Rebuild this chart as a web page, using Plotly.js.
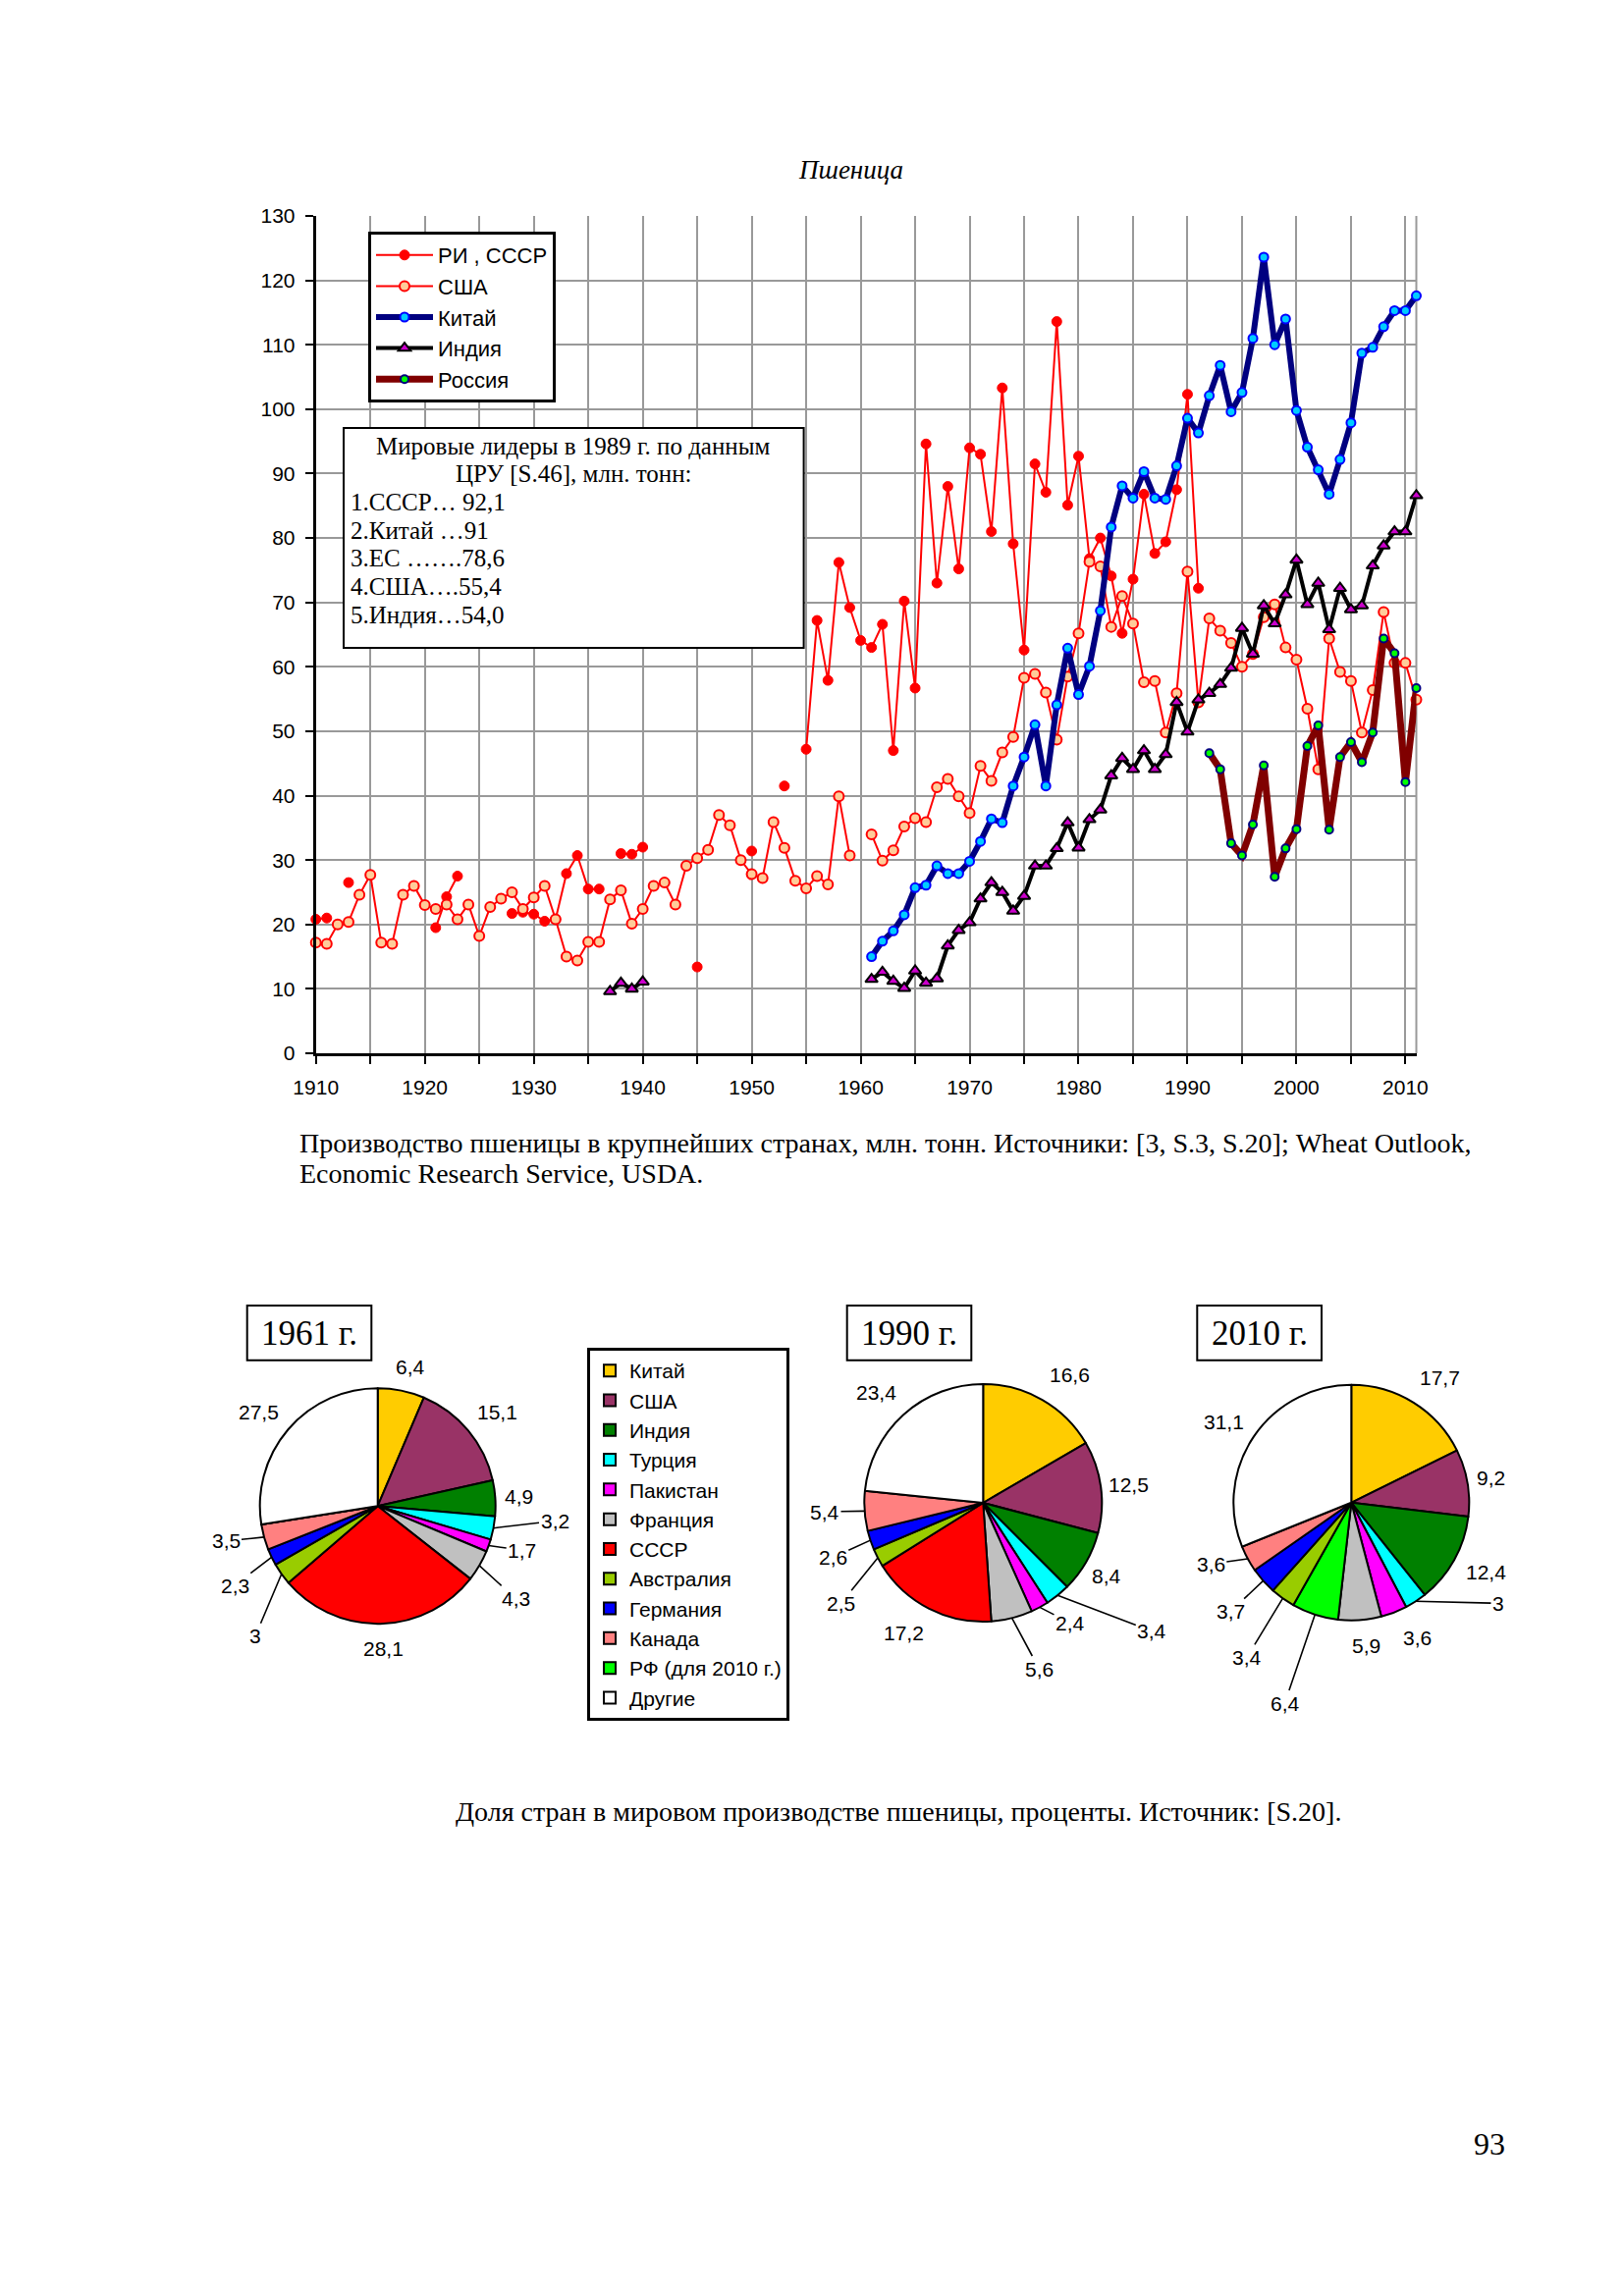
<!DOCTYPE html>
<html><head><meta charset="utf-8">
<script src="https://cdn.plot.ly/plotly-3.0.1.min.js"></script>
<style>html,body{margin:0;padding:0;background:#fff}#chart{width:1653px;height:2339px}</style>
</head><body><div id="chart"></div>
<script>
// ---------------- DATA ----------------
const seriesNames = ['РИ , СССР', 'США', 'Китай', 'Индия', 'Россия'];

// РИ / СССР, from 1910 (null = no data)
const riStart = 1910;
const riValues = [20.8, 21.0, null, 26.5, null, null, null, null, null, null, null,
  19.5, 24.3, 27.5, null, null, null, null,
  21.7, 21.9, 21.6, 20.5, 20.8, 27.9, 30.7, 25.5, 25.5, null, 31.0, 30.9, 32.0,
  null, null, null, null, 13.4, null, null, null, null, 31.4, null, null, 41.5, null,
  47.2, 67.2, 57.9, 76.2, 69.2, 64.1, 63.0, 66.6, 47.0, 70.2,
  56.7, 94.6, 73.0, 88.0, 75.2, 94.0, 93.0, 81.0, 103.3, 79.1,
  62.6, 91.5, 87.1, 113.6, 85.1, 92.7, 76.8, 80.0, 74.1, 65.2,
  73.6, 86.8, 77.6, 79.4, 87.5, 102.3, 72.2];

// США, from 1910
const usStart = 1910;
const usValues = [17.2, 17.0, 20.0, 20.4, 24.6, 27.7, 17.2, 17.0, 24.6, 26.0,
  23.0, 22.4, 23.1, 20.8, 23.1, 18.2, 22.7, 24.0, 25.0, 22.4,
  24.2, 26.0, 20.8, 15.0, 14.4, 17.3, 17.3, 23.9, 25.3, 20.1,
  22.4, 26.0, 26.5, 23.1, 29.1, 30.3, 31.6, 37.0, 35.4, 30.0,
  27.8, 27.2, 35.9, 31.9, 26.8, 25.6, 27.5, 26.2, 39.9, 30.7,
  null, 34.0, 29.9, 31.5, 35.2, 36.5, 35.9, 41.3, 42.6, 39.9,
  37.3, 44.6, 42.3, 46.7, 49.1, 58.3, 58.9, 56.0, 48.7, 58.5,
  65.2, 76.3, 75.6, 66.2, 71.0, 66.7, 57.6, 57.8, 49.8, 55.9,
  74.8, 54.5, 67.5, 65.6, 63.7, 60.0, 62.0, 67.7, 69.7, 63.0,
  61.1, 53.5, 44.1, 64.4, 59.2, 57.8, 49.8, 56.4, 68.5, 60.6,
  60.6, 54.9];

// Китай, from 1961
const chinaStart = 1961;
const chinaValues = [15.0, 17.4, 19.0, 21.5, 25.7, 26.1, 29.1, 27.9, 27.9, 29.8,
  32.9, 36.4, 35.8, 41.5, 46.0, 51.0, 41.5, 54.1, 62.9, 55.7,
  60.1, 68.7, 81.7, 88.1, 86.2, 90.3, 86.2, 86.0, 91.2, 98.6,
  96.3, 102.1, 106.8, 99.6, 102.6, 111.0, 123.6, 110.0, 114.0, 99.8,
  94.1, 90.6, 86.8, 92.2, 97.9, 108.7, 109.6, 112.8, 115.3, 115.3,
  117.6];

// Индия, from 1937
const indiaStart = 1937;
const indiaValues = [9.6, 10.9, 10.0, 11.1,
  null, null, null, null, null, null, null, null, null, null,
  null, null, null, null, null, null, null, null, null, null,
  11.5, 12.6, 11.2, 10.1, 12.8, 10.9, 11.6, 16.7, 19.1, 20.3,
  24.0, 26.5, 25.0, 22.1, 24.4, 29.1, 29.1, 31.8, 35.8, 31.9,
  36.3, 37.8, 43.1, 45.8, 44.1, 47.0, 44.1, 46.4, 54.5, 49.9,
  54.9, 55.9, 57.3, 59.8, 66.0, 62.0, 69.5, 66.7, 71.2, 76.6,
  69.7, 73.0, 65.8, 72.2, 68.9, 69.5, 75.7, 78.8, 81.0, 81.0,
  86.6];

// Россия, from 1992
const russiaStart = 1992;
const russiaValues = [46.6, 44.1, 32.6, 30.7, 35.5, 44.7, 27.4, 31.8, 34.8, 47.7,
  50.9, 34.7, 46.0, 48.3, 45.2, 49.8, 64.4, 62.1, 42.1, 56.7];

// Pie charts: shares, %
const pieLabels = ['Китай', 'США', 'Индия', 'Турция', 'Пакистан', 'Франция', 'СССР',
  'Австралия', 'Германия', 'Канада', 'РФ (для 2010 г.)', 'Другие'];
const share1961 = [6.4, 15.1, 4.9, 3.2, 1.7, 4.3, 28.1, 3, 2.3, 3.5, 0, 27.5];
const labels1990 = ['Китай', 'США', 'Индия', 'Турция', 'Пакистан', 'Франция', 'СССР',
  'Австралия', 'Германия', 'Канада', 'Другие'];
const share1990 = [16.6, 12.5, 8.4, 3.4, 2.4, 5.6, 17.2, 2.5, 2.6, 5.4, 23.4];
const labels2010 = ['Китай', 'США', 'Индия', 'Турция', 'Пакистан', 'Франция', 'РФ (для 2010 г.)',
  'Австралия', 'Германия', 'Канада', 'Другие'];
const share2010 = [17.7, 9.2, 12.4, 3, 3.6, 5.9, 6.4, 3.4, 3.7, 3.6, 31.1];
const pieYears = ['1961 г.', '1990 г.', '2010 г.'];

const boxLines = ['Мировые лидеры в 1989 г. по данным', 'ЦРУ [S.46], млн. тонн:',
  '1.СССР… 92,1', '2.Китай …91', '3.ЕС …….78,6', '4.США….55,4', '5.Индия…54,0'];

// ---------------- STYLE / LAYOUT ----------------
const W = 1653, H = 2339;
const X = v => v / W;
const Y = v => 1 - v / H;
const SANS = 'Liberation Sans, Arial, sans-serif';
const SERIF = 'Liberation Serif, Times New Roman, serif';
const yearsFrom = (start, arr) => arr.map((_, i) => start + i);

const colorMap = {
  'Китай': '#FFCC00', 'США': '#993366', 'Индия': '#008000', 'Турция': '#00FFFF',
  'Пакистан': '#FF00FF', 'Франция': '#C0C0C0', 'СССР': '#FF0000', 'Австралия': '#99CC00',
  'Германия': '#0000FF', 'Канада': '#FF8080', 'РФ (для 2010 г.)': '#00FF00', 'Другие': '#FFFFFF'
};

function lineTrace(name, start, vals, line, marker) {
  return {
    type: 'scatter', mode: 'lines+markers', name: name, legendgroup: name,
    x: yearsFrom(start, vals), y: vals, connectgaps: false, cliponaxis: false,
    line: line, marker: marker, hoverinfo: 'skip'
  };
}

const traces = [
  lineTrace(seriesNames[0], riStart, riValues, {color: '#FF0000', width: 2},
    {symbol: 'circle', size: 10, color: '#FF0000', line: {color: '#FF0000', width: 1}}),
  lineTrace(seriesNames[1], usStart, usValues, {color: '#FF0000', width: 2},
    {symbol: 'circle', size: 10, color: '#FFCC99', line: {color: '#FF0000', width: 2}}),
  lineTrace(seriesNames[2], chinaStart, chinaValues, {color: '#000080', width: 6},
    {symbol: 'circle', size: 9, color: '#00CCFF', line: {color: '#0000FF', width: 2}}),
  lineTrace(seriesNames[3], indiaStart, indiaValues, {color: '#000000', width: 4},
    {symbol: 'triangle-up', size: 11, color: '#CC00CC', line: {color: '#000000', width: 2}}),
  lineTrace(seriesNames[4], russiaStart, russiaValues, {color: '#800000', width: 7},
    {symbol: 'circle', size: 8, color: '#00FF00', line: {color: '#000080', width: 2}})
];

// pie geometry (px)
const pieGeo = [
  {cx: 384.7, cy: 1534.2, r: 120},
  {cx: 1001.3, cy: 1531, r: 121},
  {cx: 1376.3, cy: 1530.8, r: 120}
];
const pieSets = [
  {labels: pieLabels, values: share1961},
  {labels: labels1990, values: share1990},
  {labels: labels2010, values: share2010}
];
// label positions relative to pie centre: [dx, dy, leaderLine]
const labelPos = [
  [[33.6, -141.5, 0], [121.3, -95.9, 0], [143.6, -10.2, 0], [180.3, 15.1, 1], [147, 45.1, 1],
   [140.3, 94.1, 1], [5.3, 145.8, 0], [-124.7, 132.5, 1], [-145.4, 80.8, 1], [-154.7, 35.8, 1],
   null, [-121.4, -95.9, 0]],
  [[88, -131, 0], [148, -18.3, 0], [126, 74, 0], [172, 130.7, 1], [88.7, 122.3, 1],
   [57, 169, 1], [-81.3, 132.3, 0], [-144.6, 102.3, 1], [-153, 55.7, 1], [-161.3, 9, 1],
   [-108.6, -112.7, 0]],
  [[90.4, -127.5, 0], [142, -25.8, 0], [137, 70.9, 0], [149.7, 102.5, 1], [67, 137.5, 0],
   [15.4, 145.2, 0], [-67.8, 204.2, 1], [-106.3, 157.5, 1], [-123, 110.9, 1], [-143, 62.5, 1],
   [-129.6, -82.5, 0]]
];
const yearBoxes = [{x0: 251.7, x1: 378.3}, {x0: 862.7, x1: 989.3}, {x0: 1219.3, x1: 1346}];

pieSets.forEach((p, k) => {
  const g = pieGeo[k];
  traces.push({
    type: 'pie', labels: p.labels, values: p.values, sort: false, direction: 'clockwise',
    rotation: 0, textinfo: 'none', hoverinfo: 'none', legend: 'legend2', showlegend: true,
    marker: {colors: p.labels.map(l => colorMap[l]), line: {color: '#000000', width: 2}},
    domain: {x: [X(g.cx - g.r), X(g.cx + g.r)], y: [Y(g.cy + g.r), Y(g.cy - g.r)]}
  });
});

const annotations = [];
const shapes = [];
const pieFont = {family: SANS, size: 21, color: '#000'};

function textAt(x, y, text, font, xanchor) {
  return {xref: 'paper', yref: 'paper', x: X(x), y: Y(y), showarrow: false,
    xanchor: xanchor || 'center', yanchor: 'middle', text: text, font: font};
}

pieSets.forEach((p, k) => {
  const g = pieGeo[k];
  const total = p.values.reduce((a, b) => a + b, 0);
  let cum = 0;
  p.values.forEach((v, i) => {
    const mid = (cum + v / 2) / total * 2 * Math.PI;
    cum += v;
    const pos = labelPos[k][i];
    if (!v || !pos) return;
    const tx = g.cx + pos[0], ty = g.cy + pos[1];
    const text = String(v).replace('.', ',');
    if (pos[2]) {
      const axp = g.cx + g.r * Math.sin(mid), ayp = g.cy - g.r * Math.cos(mid);
      annotations.push({xref: 'paper', yref: 'paper', x: X(axp), y: Y(ayp), ax: tx - axp, ay: ty - ayp,
        showarrow: true, arrowhead: 0, arrowwidth: 1.6, arrowcolor: '#000', standoff: 0,
        text: text, font: pieFont});
    } else {
      annotations.push(textAt(tx, ty, text, pieFont));
    }
  });
  const b = yearBoxes[k];
  shapes.push({type: 'rect', xref: 'paper', yref: 'paper', x0: X(b.x0), x1: X(b.x1), y0: Y(1385.7), y1: Y(1330),
    line: {color: '#000', width: 2}, fillcolor: 'rgba(0,0,0,0)'});
  annotations.push(textAt((b.x0 + b.x1) / 2, 1358.5, pieYears[k], {family: SERIF, size: 35, color: '#000'}));
});

// info box in the line chart
shapes.push({type: 'rect', xref: 'paper', yref: 'paper', x0: X(350), x1: X(818.6), y0: Y(660), y1: Y(436),
  line: {color: '#000', width: 2}, fillcolor: '#FFFFFF', layer: 'above'});
const boxY = [454, 482.3, 511.7, 540, 568.3, 597.7, 626.7];
boxLines.forEach((t, i) => {
  const centred = i < 2;
  annotations.push(textAt(centred ? 584.3 : 355.4, boxY[i], t,
    {family: SERIF, size: 25, color: '#000'}, centred ? 'center' : 'left'));
});
// right border of plot
shapes.push({type: 'line', xref: 'x domain', yref: 'y domain', x0: 1, x1: 1, y0: 0, y1: 1,
  line: {color: '#999999', width: 2}, layer: 'below'});

// texts
const capFont = {family: SERIF, size: 28, color: '#000'};
annotations.push(textAt(866, 173, '<i>Пшеница</i>', {family: SERIF, size: 27, color: '#000'}));
annotations.push(textAt(303, 1164,
  'Производство пшеницы в крупнейших странах, млн. тонн. Источники: [3, S.3, S.20]; Wheat Outlook,', capFont, 'left'));
annotations.push(textAt(303, 1195, 'Economic Research Service, USDA.', capFont, 'left'));
annotations.push(textAt(915, 1845, 'Доля стран в мировом производстве пшеницы, проценты. Источник: [S.20].', capFont));
annotations.push(textAt(1517, 2184, '93', {family: SERIF, size: 32, color: '#000'}));

const gridCol = '#999999';
const layout = {
  width: W, height: H, margin: {l: 0, r: 0, t: 0, b: 0},
  paper_bgcolor: '#FFFFFF', plot_bgcolor: '#FFFFFF', showlegend: true,
  xaxis: {
    domain: [X(321.7), X(1442.5)], range: [1910, 2011], tick0: 1910, dtick: 10,
    ticks: 'outside', ticklen: 8, tickwidth: 2, tickcolor: '#000',
    showline: true, linecolor: '#000', linewidth: 3, showgrid: true, gridcolor: gridCol, gridwidth: 2,
    zeroline: false, ticklabelstandoff: 6, fixedrange: true,
    tickfont: {family: SANS, size: 21, color: '#000'},
    minor: {tick0: 1910, dtick: 5, ticks: 'outside', ticklen: 8, tickwidth: 2, tickcolor: '#000',
      showgrid: true, gridcolor: gridCol, gridwidth: 2}
  },
  yaxis: {
    domain: [Y(1073), Y(220)], range: [0, 130], tick0: 0, dtick: 10,
    ticks: 'outside', ticklen: 8, tickwidth: 2, tickcolor: '#000',
    showline: true, linecolor: '#000', linewidth: 3, showgrid: true, gridcolor: gridCol, gridwidth: 2,
    zeroline: false, ticklabelstandoff: 6, fixedrange: true,
    tickfont: {family: SANS, size: 21, color: '#000'}
  },
  legend: {
    x: X(375), y: Y(236), xanchor: 'left', yanchor: 'top', bgcolor: '#FFFFFF',
    bordercolor: '#000', borderwidth: 3, itemwidth: 58, tracegroupgap: 0,
    font: {family: SANS, size: 22, color: '#000'}
  },
  legend2: {
    x: X(598), y: Y(1373), xanchor: 'left', yanchor: 'top', bgcolor: '#FFFFFF',
    bordercolor: '#000', borderwidth: 3, itemwidth: 30,
    font: {family: SANS, size: 21, color: '#000'}
  },
  shapes: shapes,
  annotations: annotations
};

Plotly.newPlot('chart', traces, layout, {staticPlot: true, displayModeBar: false});
</script>
</body></html>
